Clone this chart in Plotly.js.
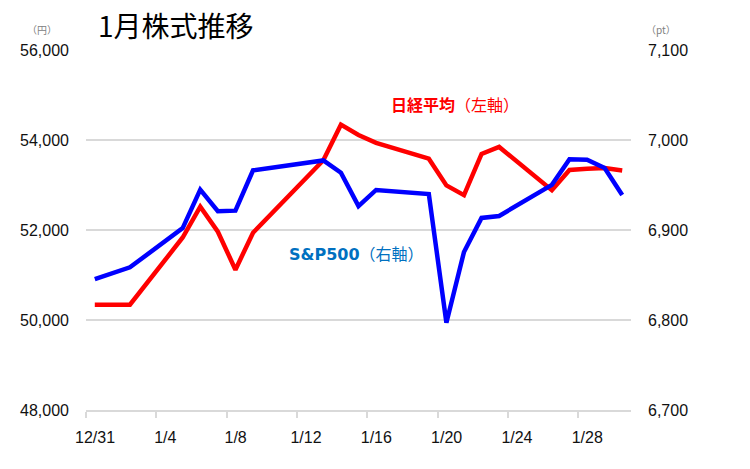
<!DOCTYPE html>
<html>
<head>
<meta charset="utf-8">
<script src="https://cdn.plot.ly/plotly-3.0.1.min.js"></script>
<style>html,body{margin:0;padding:0;background:#fff;}#chart{width:750px;height:469px;}</style>
</head>
<body>
<div id="chart"></div>
<script>
const dates = ['2025-12-31','2026-01-02','2026-01-05','2026-01-06','2026-01-07','2026-01-08','2026-01-09',
  '2026-01-13','2026-01-14','2026-01-15','2026-01-16','2026-01-19','2026-01-20','2026-01-21','2026-01-22',
  '2026-01-23','2026-01-26','2026-01-27','2026-01-28','2026-01-29','2026-01-30'];
const nikkei = [50339, 50339, 51833, 52518, 51962, 51117, 51940,
  53549, 54341, 54110, 53936, 53584, 52991, 52775, 53689,
  53847, 52885, 53334, 53359, 53376, 53323];
const sp500 = [6845.5, 6858.5, 6902.1, 6944.8, 6920.9, 6921.5, 6966.3,
  6977.3, 6963.7, 6926.6, 6944.5, 6940.0, 6796.9, 6875.6, 6913.4,
  6915.6, 6950.2, 6978.6, 6978.0, 6969.0, 6939.0];
const xTickVals = ['2025-12-30 12:00','2026-01-03 12:00','2026-01-07 12:00','2026-01-11 12:00',
  '2026-01-15 12:00','2026-01-19 12:00','2026-01-23 12:00','2026-01-27 12:00'];
const xTickText = ['12/31','1/4','1/8','1/12','1/16','1/20','1/24','1/28'];
const leftTicks = [48000, 50000, 52000, 54000, 56000];
const rightTicks = [6700, 6800, 6900, 7000, 7100];

const tickFont = {family: 'Liberation Sans, Arial, sans-serif', size: 16, color: '#111'};
const cjk = 'Noto Sans CJK JP, sans-serif';

const traces = [
  {x: dates, y: nikkei, type: 'scatter', mode: 'lines', name: '日経平均',
   line: {color: '#ff0000', width: 4.5}, yaxis: 'y', hoverinfo: 'skip'},
  {x: dates, y: sp500, type: 'scatter', mode: 'lines', name: 'S&P500',
   line: {color: '#0000ff', width: 4.5}, yaxis: 'y2', hoverinfo: 'skip'}
];

const layout = {
  width: 750, height: 469,
  margin: {l: 86, r: 119, t: 50, b: 59},
  paper_bgcolor: '#fff', plot_bgcolor: '#fff',
  showlegend: false,
  title: {text: '1月株式推移', font: {family: cjk, size: 28, color: '#000'},
          x: 98/750, xanchor: 'left', xref: 'container', y: 1 - 27/469, yanchor: 'middle', yref: 'container'},
  xaxis: {type: 'date', range: ['2025-12-30 12:00','2026-01-30 12:00'],
          tickmode: 'array', tickvals: xTickVals, ticktext: xTickText,
          ticks: 'outside', ticklen: 6, tickwidth: 2, tickcolor: '#d9d9d9',
          ticklabelshift: 9, ticklabelstandoff: 6,
          showline: true, linecolor: '#d9d9d9', linewidth: 2,
          showgrid: false, zeroline: false, tickfont: tickFont, fixedrange: true},
  yaxis: {range: [48000, 56000], tickmode: 'array', tickvals: leftTicks, tickformat: ',',
          showgrid: true, gridcolor: '#d9d9d9', gridwidth: 2, zeroline: false,
          ticks: '', ticklabelstandoff: 16, tickfont: tickFont, fixedrange: true},
  yaxis2: {range: [6700, 7100], tickmode: 'array', tickvals: rightTicks, tickformat: ',',
           overlaying: 'y', side: 'right', showgrid: false, zeroline: false,
           ticks: '', ticklabelstandoff: 16, tickfont: tickFont, fixedrange: true},
  annotations: [
    {xref: 'paper', yref: 'paper', x: (389-86)/545, y: (410-104)/360, xanchor: 'left', yanchor: 'middle',
     showarrow: false, text: '<b>日経平均</b>（左軸）', font: {family: cjk, size: 16, color: '#ff0000'}},
    {xref: 'paper', yref: 'paper', x: (287-86)/545, y: (410-253)/360, xanchor: 'left', yanchor: 'middle',
     showarrow: false, text: '<b><span style="font-family:DejaVu Sans">S&amp;P500</span></b>（右軸）',
     font: {family: cjk, size: 16, color: '#0070c0'}},
    {xref: 'paper', yref: 'paper', x: (42-86)/545, y: (410-30)/360, xanchor: 'center', yanchor: 'middle',
     showarrow: false, text: '（円）', font: {family: cjk, size: 10, color: '#808080'}},
    {xref: 'paper', yref: 'paper', x: (661-86)/545, y: (410-30)/360, xanchor: 'center', yanchor: 'middle',
     showarrow: false, text: '（pt）', font: {family: cjk, size: 10, color: '#808080'}}
  ]
};

Plotly.newPlot('chart', traces, layout, {staticPlot: true, displayModeBar: false});
</script>
</body>
</html>
